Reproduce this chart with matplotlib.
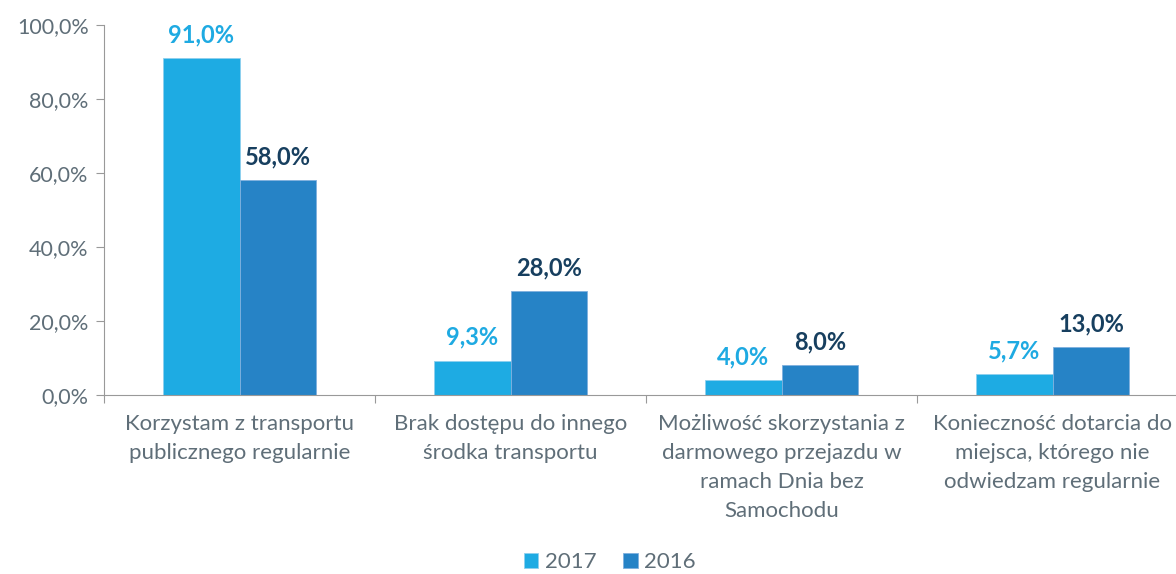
import numpy as np
import matplotlib
matplotlib.use('Agg')
import matplotlib.pyplot as plt
from matplotlib.ticker import FuncFormatter

plt.rcParams['font.family'] = ['Lato', 'DejaVu Sans']

# Data
categories = ['Korzystam z transportu\npublicznego regularnie',
              'Brak dostępu do innego\nśrodka transportu',
              'Możliwość skorzystania z\ndarmowego przejazdu w\nramach Dnia bez\nSamochodu',
              'Konieczność dotarcia do\nmiejsca, którego nie\nodwiedzam regularnie']
v2017 = [91.0, 9.3, 4.0, 5.7]
v2016 = [58.0, 28.0, 8.0, 13.0]

c17 = '#1eabe3'
c16 = '#2683c6'
txt = '#5f6e78'

fig = plt.figure(figsize=(11.76, 5.74), dpi=100)
ax = fig.add_axes([104/1176, 1-395/574, 1084/1176, 370/574])

x = np.arange(len(categories))
w = 0.284
b1 = ax.bar(x - w/2, v2017, w, color=c17, edgecolor='#8fd0ee', linewidth=0.6, label='2017')
b2 = ax.bar(x + w/2, v2016, w, color=c16, edgecolor='#7fb0de', linewidth=0.6, label='2016')

fmt = lambda v: ('%.1f%%' % v).replace('.', ',')
for r, v in zip(b1, v2017):
    ax.text(r.get_x() + r.get_width()/2, v + 3.2, fmt(v), ha='center', va='bottom',
            fontsize=17, fontweight='bold', color='#1eaae2')
for r, v in zip(b2, v2016):
    ax.text(r.get_x() + r.get_width()/2, v + 3.2, fmt(v), ha='center', va='bottom',
            fontsize=17, fontweight='bold', color='#173f5f')

ax.set_xlim(-0.5, 3.5)
ax.set_ylim(0, 100)
ax.set_yticks(np.arange(0, 101, 20))
ax.yaxis.set_major_formatter(FuncFormatter(lambda v, p: fmt(v)))
ax.set_xticks(np.arange(-0.5, 4, 1))
ax.set_xticklabels([])
ax.set_xticks(x, minor=True)
ax.set_xticklabels(categories, minor=True, fontsize=16, color=txt, linespacing=1.55)
ax.tick_params(axis='x', which='minor', length=0, pad=14)
ax.tick_params(axis='x', which='major', length=6, color='#999999', direction='out')
ax.tick_params(axis='y', length=6, color='#999999', labelsize=15.5, labelcolor=txt, pad=5)

for s in ['top', 'right']:
    ax.spines[s].set_visible(False)
ax.spines['left'].set_color('#999999')
ax.spines['bottom'].set_color('#999999')

fig.legend(handles=[b1, b2], loc='center', bbox_to_anchor=(610/1176, 1-562/574), ncol=2,
           frameon=False, fontsize=16, labelcolor=txt, handlelength=0.65, handleheight=0.65,
           handletextpad=0.3, columnspacing=1.2)

fig.savefig('out.png', dpi=100)
